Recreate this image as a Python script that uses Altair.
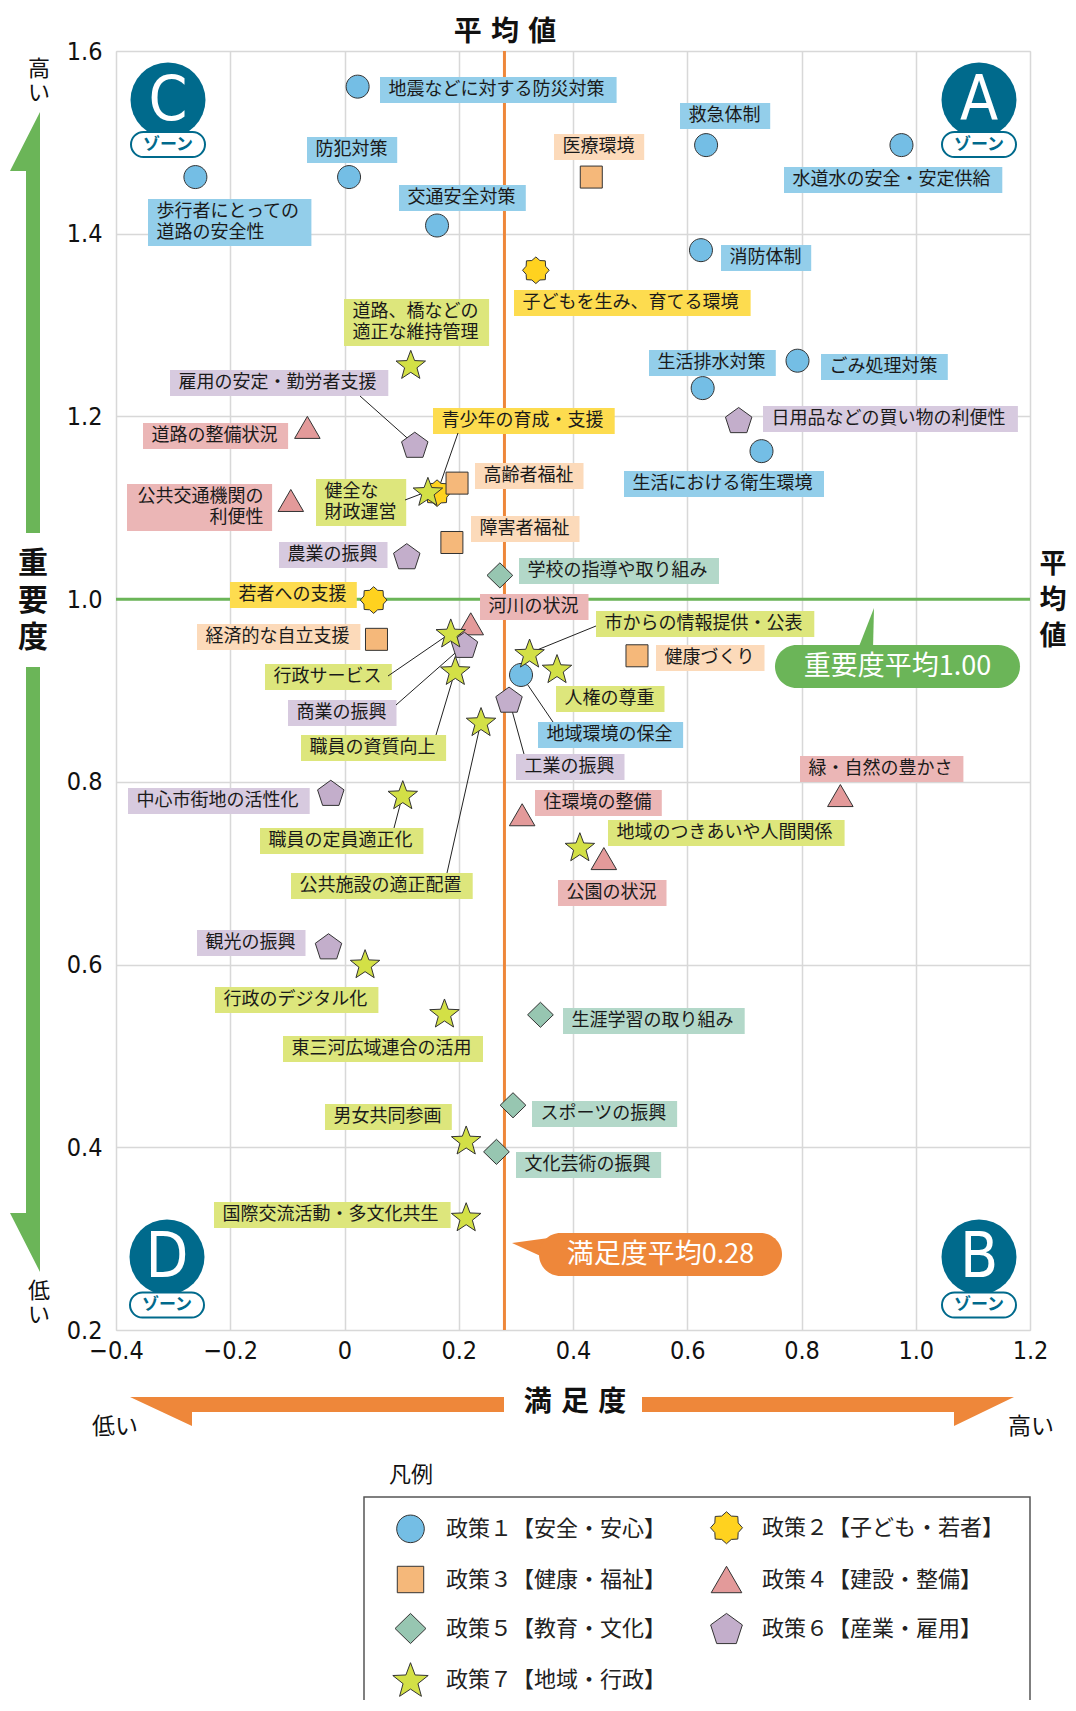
import math
import altair as alt
import pandas as pd

# ---------------- data ----------------
POLICIES = ["政策１【安全・安心】", "政策２【子ども・若者】", "政策３【健康・福祉】", "政策４【建設・整備】",
            "政策５【教育・文化】", "政策６【産業・雇用】", "政策７【地域・行政】"]

P1_NAMES = ["地震などに対する防災対策", "歩行者にとっての道路の安全性", "防犯対策", "交通安全対策", "救急体制",
            "水道水の安全・安定供給", "消防体制", "ごみ処理対策", "生活排水対策", "生活における衛生環境", "地域環境の保全"]
P1_SAT = [0.023, -0.261, 0.008, 0.162, 0.633, 0.975, 0.624, 0.793, 0.627, 0.730, 0.309]
P1_IMP = [1.561, 1.462, 1.462, 1.409, 1.497, 1.497, 1.382, 1.261, 1.231, 1.162, 0.917]

P2_NAMES = ["子どもを生み、育てる環境", "青少年の育成・支援", "若者への支援"]
P2_SAT = [0.335, 0.162, 0.051]
P2_IMP = [1.360, 1.116, 0.999]

P3_NAMES = ["医療環境", "高齢者福祉", "障害者福祉", "経済的な自立支援", "健康づくり"]
P3_SAT = [0.432, 0.197, 0.188, 0.056, 0.512]
P3_IMP = [1.462, 1.127, 1.062, 0.956, 0.938]

P4_NAMES = ["道路の整備状況", "公共交通機関の利便性", "河川の状況", "緑・自然の豊かさ", "住環境の整備", "公園の状況"]
P4_SAT = [-0.065, -0.094, 0.221, 0.868, 0.311, 0.454]
P4_IMP = [1.188, 1.108, 0.973, 0.785, 0.764, 0.716]

P5_NAMES = ["学校の指導や取り組み", "生涯学習の取り組み", "スポーツの振興", "文化芸術の振興"]
P5_SAT = [0.272, 0.343, 0.295, 0.266]
P5_IMP = [1.026, 0.545, 0.446, 0.395]

P6_NAMES = ["日用品などの買い物の利便性", "雇用の安定・勤労者支援", "農業の振興", "商業の振興", "工業の振興",
            "中心市街地の活性化", "観光の振興"]
P6_SAT = [0.690, 0.123, 0.109, 0.210, 0.288, -0.024, -0.028]
P6_IMP = [1.196, 1.169, 1.047, 0.950, 0.890, 0.788, 0.620]

P7_NAMES = ["道路、橋などの適正な維持管理", "健全な財政運営", "行政サービス", "職員の資質向上", "市からの情報提供・公表",
            "人権の尊重", "公共施設の適正配置", "職員の定員適正化", "地域のつきあいや人間関係", "行政のデジタル化",
            "東三河広域連合の活用", "男女共同参画", "国際交流活動・多文化共生"]
P7_SAT = [0.116, 0.146, 0.186, 0.194, 0.324, 0.372, 0.239, 0.102, 0.412, 0.036, 0.175, 0.213, 0.213]
P7_IMP = [1.257, 1.118, 0.963, 0.922, 0.941, 0.924, 0.866, 0.786, 0.729, 0.601, 0.547, 0.408, 0.324]

AVG_SAT = 0.28
AVG_IMP = 1.00
X_TICKS = [-0.4, -0.2, 0, 0.2, 0.4, 0.6, 0.8, 1.0, 1.2]
Y_TICKS = [0.2, 0.4, 0.6, 0.8, 1.0, 1.2, 1.4, 1.6]

# ---------------- styles / layout ----------------
FILLS = ["#74BEE5", "#FFD21F", "#F5B87A", "#E39A9A", "#97C6B1", "#C3AECB", "#D3E046"]
LABEL_BG = ["#93CEEA", "#FDDC4F", "#FCDABA", "#EBB6B6", "#B3D8C9", "#D7CADF", "#DDE67C"]
JP = "Noto Sans CJK JP"
NUM = "Liberation Sans Narrow, DejaVu Sans Condensed, Roboto, sans-serif"
W, H = 914, 1279
OX, OY = 116, 51           # plot origin on the page
XMIN, XMAX, YMIN, YMAX = -0.4, 1.2, 0.2, 1.6
TEAL = "#006A8C"
GREEN = "#6BB558"
ORANGE = "#EE873A"
LINE_H = 21


def px2x(px):
    return XMIN + (px - OX) / W * (XMAX - XMIN)


def py2y(py):
    return YMAX - (py - OY) / H * (YMAX - YMIN)


def poly(pts):
    return "M" + " L".join(f"{x:.3f},{y:.3f}" for x, y in pts) + " Z"


def star(n, R, r, shift=0.0):
    pts = []
    for k in range(2 * n):
        a = -math.pi / 2 + k * math.pi / n
        rad = R if k % 2 == 0 else r
        pts.append((rad * math.cos(a), rad * math.sin(a) + shift))
    return poly(pts)


def pentagon(R):
    pts = []
    for k in range(5):
        a = -math.pi / 2 + k * 2 * math.pi / 5
        pts.append((R * math.cos(a), R * math.sin(a) + 0.0955 * R))
    return poly(pts)


PATHS = [
    "M0.742,0 A0.742,0.742 0 1,1 -0.742,0 A0.742,0.742 0 1,1 0.742,0 Z",
    star(8, 0.86, 0.68),
    poly([(-0.71, -0.71), (0.71, -0.71), (0.71, 0.71), (-0.71, 0.71)]),
    poly([(0, -0.71), (0.823, 0.71), (-0.823, 0.71)]),
    poly([(0, -0.81), (0.83, 0), (0, 0.81), (-0.83, 0)]),
    pentagon(0.897),
    star(5, 1.0, 0.42, 0.0955),
]

# label boxes: page-pixel left/top, shown text, alignment
LABEL_POS = {
    "地震などに対する防災対策": (380, 77, None, "left"),
    "歩行者にとっての道路の安全性": (148, 199, "歩行者にとっての\n道路の安全性", "left"),
    "防犯対策": (307, 137, None, "left"),
    "交通安全対策": (399, 185, None, "left"),
    "救急体制": (680, 103, None, "left"),
    "水道水の安全・安定供給": (784, 167, None, "left"),
    "消防体制": (721, 245, None, "left"),
    "ごみ処理対策": (821, 354, None, "left"),
    "生活排水対策": (649, 350, None, "left"),
    "生活における衛生環境": (624, 471, None, "left"),
    "地域環境の保全": (538, 722, None, "left"),
    "子どもを生み、育てる環境": (514, 290, None, "left"),
    "青少年の育成・支援": (433, 408, None, "left"),
    "若者への支援": (230, 582, None, "left"),
    "医療環境": (554, 134, None, "left"),
    "高齢者福祉": (475, 463, None, "left"),
    "障害者福祉": (471, 516, None, "left"),
    "経済的な自立支援": (197, 624, None, "left"),
    "健康づくり": (656, 645, None, "left"),
    "道路の整備状況": (143, 423, None, "left"),
    "公共交通機関の利便性": (127, 484, "公共交通機関の\n利便性", "right"),
    "河川の状況": (480, 594, None, "left"),
    "緑・自然の豊かさ": (800, 756, None, "left"),
    "住環境の整備": (535, 790, None, "left"),
    "公園の状況": (558, 880, None, "left"),
    "学校の指導や取り組み": (519, 558, None, "left"),
    "生涯学習の取り組み": (563, 1008, None, "left"),
    "スポーツの振興": (532, 1101, None, "left"),
    "文化芸術の振興": (516, 1152, None, "left"),
    "日用品などの買い物の利便性": (763, 406, None, "left"),
    "雇用の安定・勤労者支援": (170, 370, None, "left"),
    "農業の振興": (279, 542, None, "left"),
    "商業の振興": (288, 700, None, "left"),
    "工業の振興": (516, 754, None, "left"),
    "中心市街地の活性化": (128, 788, None, "left"),
    "観光の振興": (197, 930, None, "left"),
    "道路、橋などの適正な維持管理": (344, 299, "道路、橋などの\n適正な維持管理", "left"),
    "健全な財政運営": (316, 479, "健全な\n財政運営", "left"),
    "行政サービス": (265, 664, None, "left"),
    "職員の資質向上": (301, 735, None, "left"),
    "市からの情報提供・公表": (596, 611, None, "left"),
    "人権の尊重": (556, 686, None, "left"),
    "公共施設の適正配置": (291, 873, None, "left"),
    "職員の定員適正化": (260, 828, None, "left"),
    "地域のつきあいや人間関係": (608, 820, None, "left"),
    "行政のデジタル化": (215, 987, None, "left"),
    "東三河広域連合の活用": (283, 1036, None, "left"),
    "男女共同参画": (325, 1104, None, "left"),
    "国際交流活動・多文化共生": (214, 1202, None, "left"),
}

# leader lines: label end point on the page
LEADERS = {
    "雇用の安定・勤労者支援": (360, 396),
    "青少年の育成・支援": (458, 433),
    "健全な財政運営": (405, 500),
    "行政サービス": (388, 676),
    "商業の振興": (396, 705),
    "職員の資質向上": (436, 735),
    "職員の定員適正化": (394, 828),
    "公共施設の適正配置": (447, 873),
    "市からの情報提供・公表": (596, 626),
    "地域環境の保全": (553, 722),
    "工業の振興": (524, 754),
}

# ---------------- build tables ----------------
groups = [(P1_NAMES, P1_SAT, P1_IMP), (P2_NAMES, P2_SAT, P2_IMP), (P3_NAMES, P3_SAT, P3_IMP),
          (P4_NAMES, P4_SAT, P4_IMP), (P5_NAMES, P5_SAT, P5_IMP), (P6_NAMES, P6_SAT, P6_IMP),
          (P7_NAMES, P7_SAT, P7_IMP)]
rows = []
for gi, (names, sats, imps) in enumerate(groups):
    for n, s, i in zip(names, sats, imps):
        rows.append(dict(name=n, sat=s, imp=i, policy=POLICIES[gi], gi=gi))
pts = pd.DataFrame(rows)

FS = 18
CHAR_W = 18.3
PAD = 8.5
lab_rows = []
for r in rows:
    left, top, disp, align = LABEL_POS[r["name"]]
    disp = disp or r["name"]
    lines = disp.split("\n")
    wpx = max(len(l) for l in lines) * CHAR_W + 2 * PAD
    hpx = 26 if len(lines) == 1 else 47
    tx = left + PAD if align == "left" else left + wpx - PAD
    first_line_y = top + hpx / 2 - (len(lines) - 1) * LINE_H / 2
    lab_rows.append(dict(
        name=r["name"], disp=disp, align=align, bg=LABEL_BG[r["gi"]],
        bx1=px2x(left), bx2=px2x(left + wpx), by1=py2y(top), by2=py2y(top + hpx),
        tx=px2x(tx), ty=py2y(first_line_y),
    ))
lab = pd.DataFrame(lab_rows)

con_rows = []
for r in rows:
    if r["name"] in LEADERS:
        ex, ey = LEADERS[r["name"]]
        con_rows.append(dict(x=r["sat"], y=r["imp"], x2=px2x(ex), y2=py2y(ey)))
con = pd.DataFrame(con_rows)

# ---------------- chart ----------------
XS = alt.Scale(domain=[XMIN, XMAX], nice=False, zero=False)
YS = alt.Scale(domain=[YMIN, YMAX], nice=False, zero=False)
XA = alt.Axis(values=X_TICKS, grid=True, gridColor="#d8d8d8", gridWidth=1.5, ticks=False, domain=False,
              labelFont=NUM, labelFontSize=25, labelColor="#111", labelPadding=8, labelFlush=False,
              labelOverlap=False, title=None,
              labelExpr="datum.value == 0 ? '0' : replace(format(datum.value, '.1f'), '-', '\u2212')")
YA = alt.Axis(values=Y_TICKS, grid=True, gridColor="#d8d8d8", gridWidth=1.5, ticks=False, domain=False,
              labelFont=NUM, labelFontSize=25, labelColor="#111", labelPadding=14, labelFlush=False,
              labelOverlap=False, title=None, labelExpr="format(datum.value, '.1f')")

ONE = alt.InlineData(values=[{"k": 1}])


def text_at(t, x, y, size, color="#111", weight="normal", font=JP, align="center", lh=None, baseline="middle"):
    kw = dict(text=t, align=align, baseline=baseline, fontSize=size, fontWeight=weight, font=font, color=color)
    if lh:
        kw["lineHeight"] = lh
    return alt.Chart(ONE).mark_text(**kw).encode(x=alt.value(x), y=alt.value(y))


def rect_at(x1, x2, y1, y2, fill, stroke=None, sw=0, r=0):
    kw = dict(fill=fill, cornerRadius=r, opacity=1)
    if stroke:
        kw.update(stroke=stroke, strokeWidth=sw)
    else:
        kw.update(strokeWidth=0)
    return alt.Chart(ONE).mark_rect(**kw).encode(x=alt.value(x1), x2=alt.value(x2), y=alt.value(y1), y2=alt.value(y2))


def path_at(path, color):
    return alt.Chart(ONE).mark_point(shape=path, size=4, filled=True, color=color, opacity=1,
                                      strokeWidth=0).encode(x=alt.value(0), y=alt.value(0))


avg_x = alt.Chart(ONE).mark_rule(color=ORANGE, strokeWidth=3).encode(x=alt.datum(AVG_SAT, scale=XS, axis=XA))
avg_y = alt.Chart(ONE).mark_rule(color=GREEN, strokeWidth=3).encode(y=alt.datum(AVG_IMP, scale=YS, axis=YA))

boxes = alt.Chart(lab).mark_rect(opacity=1, strokeWidth=0).encode(
    x=alt.X("bx1:Q", scale=XS, axis=XA), x2="bx2:Q",
    y=alt.Y("by1:Q", scale=YS, axis=YA), y2="by2:Q",
    fill=alt.Fill("bg:N", scale=None),
)
txt_l = alt.Chart(lab[lab["align"] == "left"]).mark_text(
    align="left", baseline="middle", font=JP, fontSize=FS, color="#1a1a1a", lineBreak="\n", lineHeight=LINE_H
).encode(x=alt.X("tx:Q", scale=XS, axis=XA), y=alt.Y("ty:Q", scale=YS, axis=YA), text="disp:N")
txt_r = alt.Chart(lab[lab["align"] == "right"]).mark_text(
    align="right", baseline="middle", font=JP, fontSize=FS, color="#1a1a1a", lineBreak="\n", lineHeight=LINE_H
).encode(x=alt.X("tx:Q", scale=XS, axis=XA), y=alt.Y("ty:Q", scale=YS, axis=YA), text="disp:N")

leaders = alt.Chart(con).mark_rule(color="#222", strokeWidth=1).encode(
    x=alt.X("x:Q", scale=XS, axis=XA), y=alt.Y("y:Q", scale=YS, axis=YA), x2="x2:Q", y2="y2:Q")

LEG = alt.Legend(orient="none", legendX=275, legendY=1457, direction="horizontal", columns=2,
                 columnPadding=40, rowPadding=14,
                 symbolSize=1384, symbolStrokeColor="#333", symbolStrokeWidth=1, symbolOpacity=1,
                 labelFont=JP, labelFontSize=22, labelColor="#222", labelOffset=16, labelLimit=400,
                 title=None, padding=0)
points = alt.Chart(pts).mark_point(filled=True, size=961, opacity=1, stroke="#333", strokeWidth=1).encode(
    x=alt.X("sat:Q", scale=XS, axis=XA),
    y=alt.Y("imp:Q", scale=YS, axis=YA),
    fill=alt.Fill("policy:N", scale=alt.Scale(domain=POLICIES, range=FILLS), legend=LEG),
    shape=alt.Shape("policy:N", scale=alt.Scale(domain=POLICIES, range=PATHS), legend=LEG),
)

# callouts
callouts = [
    path_at("M742,598 L757,598 L758,557 Z", GREEN),
    rect_at(659, 904, 594, 637, GREEN, r=21.5),
    text_at(f"重要度平均{AVG_IMP:.2f}", 781.5, 616, 27, color="white"),
    path_at("M396,1192 L440,1186 L440,1212 Z", ORANGE),
    rect_at(423, 666, 1182, 1225, ORANGE, r=21.5),
    text_at(f"満足度平均{AVG_SAT:.2f}", 544.5, 1204, 27, color="white"),
]

# zone badges
zones = []
for letter, cx, cy, py in [("C", 52, 49, 93.5), ("A", 863, 49, 93.5), ("D", 51, 1206, 1254), ("B", 863, 1206, 1254)]:
    zones.append(alt.Chart(ONE).mark_circle(size=75 * 75, color=TEAL, opacity=1).encode(
        x=alt.value(cx), y=alt.value(cy)))
    zones.append(text_at(letter, cx, cy + 1, 62, color="white", font=NUM))
    zones.append(rect_at(cx - 37, cx + 37, py - 12.5, py + 12.5, "white", stroke=TEAL, sw=2, r=12.5))
    zones.append(text_at("ゾーン", cx, py, 17, color=TEAL, weight="bold"))

# outside decorations (multi-line texts: y is the first line's centre)
deco = [
    text_at("平\u2004均\u2004値", 389, -18, 28, weight="bold"),
    text_at(["平", "均", "値"], 937, 514, 27, weight="bold", lh=36),
    path_at("M-76,61 L-76,482 L-90,482 L-90,120 L-106,120 Z", GREEN),
    path_at("M-90,616 L-76,616 L-76,1221 L-106,1162 L-90,1162 Z", GREEN),
    text_at(["重", "要", "度"], -83, 513, 30, weight="bold", lh=37),
    text_at(["高", "い"], -77, 18, 22, lh=24),
    text_at(["低", "い"], -77, 1240, 22, lh=24),
    path_at("M14,1346 L388,1346 L388,1361 L76,1361 L76,1375 Z", ORANGE),
    path_at("M526,1346 L898,1346 L838,1375 L838,1361 L526,1361 Z", ORANGE),
    text_at("満\u2004足\u2004度", 459, 1352, 28, weight="bold"),
    text_at("低い", -1, 1376, 23),
    text_at("高い", 915, 1376, 23),
    text_at("凡例", 295, 1424, 22),
    rect_at(248, 914, 1446, 1720, "white", stroke="#555", sw=1.5),
]

chart = alt.layer(
    avg_x, avg_y, boxes, txt_l, txt_r, leaders, *deco, points, *callouts, *zones
).properties(
    width=W, height=H,
    autosize=alt.AutoSizeParams(type="none"),
    padding={"left": 108, "top": 43, "right": 38, "bottom": 370},
).configure_view(stroke="#111", strokeWidth=2).configure(background="white")

chart.save("out.html", embed_options={"renderer": "svg", "actions": False})
